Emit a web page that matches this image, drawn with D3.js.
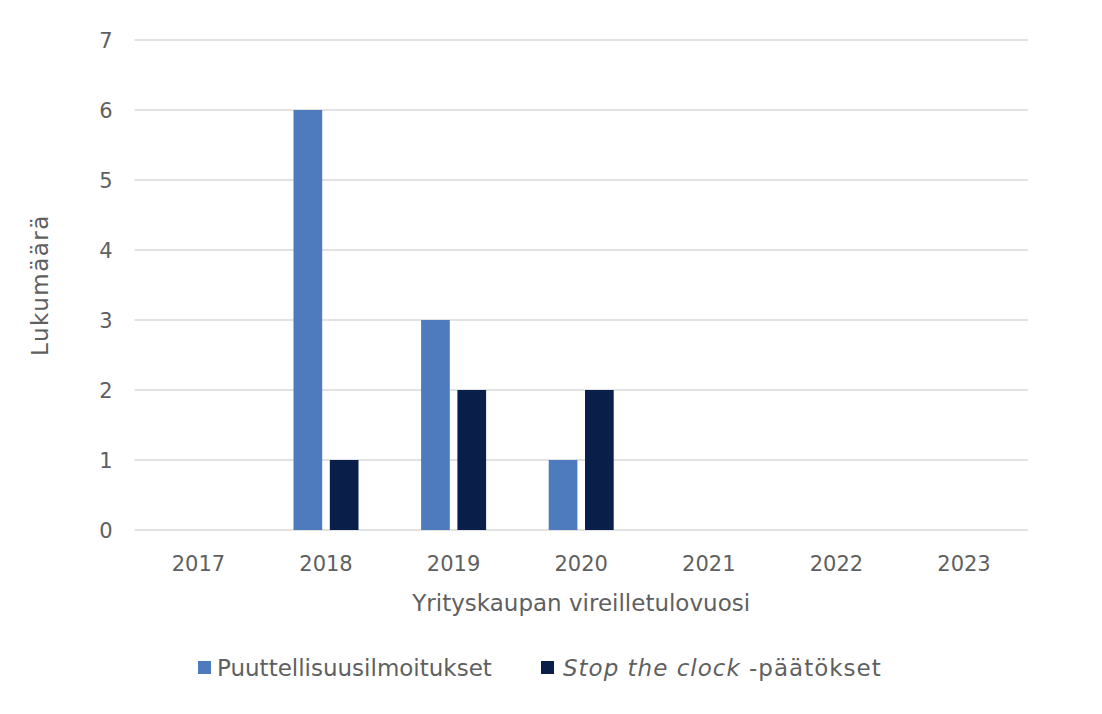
<!DOCTYPE html>
<html>
<head>
<meta charset="utf-8">
<script src="https://cdn.jsdelivr.net/npm/d3@7"></script>
<style>
  body { margin: 0; background: #fff; }
  text { font-family: "DejaVu Sans", sans-serif; fill: #5f5f5f; }
</style>
</head>
<body>
<svg id="chart" width="1102" height="714"></svg>
<script>
var years = ['2017', '2018', '2019', '2020', '2021', '2022', '2023'];
var seriesNames = ['Puuttellisuusilmoitukset', 'Stop the clock -päätökset'];
var puutteet = [0, 6, 3, 1, 0, 0, 0];
var stopClock = [0, 1, 2, 2, 0, 0, 0];
var yTicks = [0, 1, 2, 3, 4, 5, 6, 7];
var colors = ['#4e7bbd', '#0a1e4a'];

var svg = d3.select('#chart');
var margin = {left: 134.6, right: 1102 - 1027.8, top: 40, bottom: 714 - 530};
var width = 1102 - margin.left - margin.right,
    height = 714 - margin.top - margin.bottom;
var fs = '21px';   // numbers
var fw = '23px';   // words

var g = svg.append('g').attr('transform', 'translate(' + margin.left + ',' + margin.top + ')');

var x0 = d3.scaleBand().domain(years).range([0, width]).padding(0);
var groupW = 65;
var x1 = d3.scaleBand().domain([0, 1])
  .range([(x0.bandwidth() - groupW) / 2, (x0.bandwidth() + groupW) / 2])
  .paddingInner(0.21).paddingOuter(0);
var y = d3.scaleLinear().domain([0, 7]).range([height, 0]);

// gridlines
g.selectAll('line.grid')
  .data(yTicks)
  .enter().append('line')
  .attr('class', 'grid')
  .attr('x1', 0).attr('x2', width)
  .attr('y1', function(d) { return y(d); })
  .attr('y2', function(d) { return y(d); })
  .attr('stroke', '#d9d9d9')
  .attr('stroke-width', 1.5);

// y tick labels
g.selectAll('text.ytick')
  .data(yTicks)
  .enter().append('text')
  .attr('class', 'ytick')
  .attr('x', -22)
  .attr('y', function(d) { return y(d); })
  .attr('dy', '0.36em')
  .attr('text-anchor', 'end')
  .style('font-size', fs)
  .text(function(d) { return d; });

// x tick labels
g.selectAll('text.xtick')
  .data(years)
  .enter().append('text')
  .attr('class', 'xtick')
  .attr('x', function(d) { return x0(d) + x0.bandwidth() / 2; })
  .attr('y', height + 41)
  .attr('text-anchor', 'middle')
  .style('font-size', fs)
  .text(function(d) { return d; });

// bars
var series = [puutteet, stopClock];
series.forEach(function(vals, si) {
  g.selectAll('rect.s' + si)
    .data(vals)
    .enter().append('rect')
    .attr('class', 's' + si)
    .attr('x', function(d, i) { return x0(years[i]) + x1(si); })
    .attr('y', function(d) { return y(d); })
    .attr('width', x1.bandwidth())
    .attr('height', function(d) { return height - y(d); })
    .attr('fill', colors[si]);
});

// axis titles
g.append('text')
  .attr('x', width / 2)
  .attr('y', height + 81)
  .attr('text-anchor', 'middle')
  .style('font-size', fw)
  .text('Yrityskaupan vireilletulovuosi');

svg.append('text')
  .attr('transform', 'translate(48,' + (margin.top + height / 2) + ') rotate(-90)')
  .attr('text-anchor', 'middle')
  .style('font-size', fw)
  .style('letter-spacing', '1.5px')
  .text('Lukumäärä');

// legend
var legend = svg.append('g');
var leg1 = legend.append('g').attr('transform', 'translate(198,661)');
leg1.append('rect').attr('width', 13).attr('height', 13).attr('fill', colors[0]);
leg1.append('text').attr('x', 19).attr('y', 15).style('font-size', fw).text(seriesNames[0]);

var leg2 = legend.append('g').attr('transform', 'translate(541,661)');
leg2.append('rect').attr('width', 13).attr('height', 13).attr('fill', colors[1]);
var t2 = leg2.append('text').attr('x', 22).attr('y', 15).style('font-size', fw)
  .style('letter-spacing', '1px');
t2.append('tspan').style('font-style', 'italic').text('Stop the clock');
t2.append('tspan').text(' -päätökset');
</script>
</body>
</html>
